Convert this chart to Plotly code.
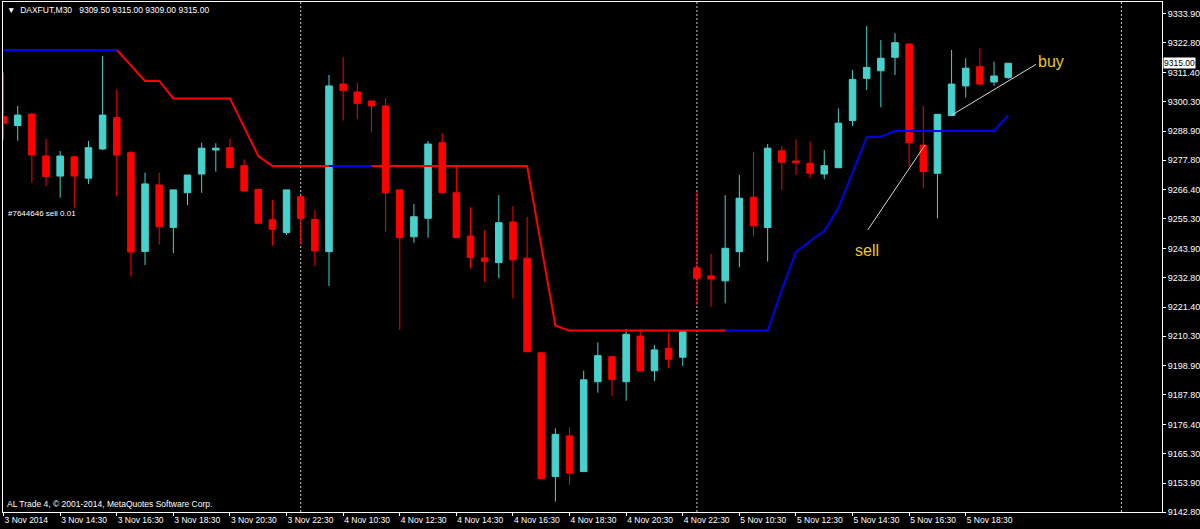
import plotly.graph_objects as go

# ---------------- data ----------------
bars = list(range(72))
opens = [9294.5, 9291.1, 9295.5, 9279.4, 9271.7, 9279.1, 9270.9, 9282.1, 9294.1, 9280.7,
         9242.8, 9268.3, 9252.0, 9265.3, 9272.5, 9281.7, 9282.6, 9275.7, 9266.6, 9254.9,
         9250.0, 9263.8, 9255.1, 9242.7, 9307.0, 9304.0, 9300.5, 9298.6, 9266.4, 9248.4,
         9255.5, 9284.5, 9265.3, 9248.7, 9240.3, 9238.5, 9254.1, 9240.2, 9203.9, 9156.4,
         9172.0, 9158.3, 9192.8, 9202.4, 9192.8, 9210.3, 9197.0, 9205.6, 9202.2, 9236.5,
         9233.4, 9231.5, 9242.7, 9263.6, 9252.0, 9281.4, 9277.5, 9276.6, 9272.5, 9274.9,
         9293.0, 9309.2, 9312.1, 9317.3, 9322.4, 9283.6, 9272.8, 9294.9, 9306.3, 9313.7,
         9307.8, 9309.5]
highs = [9311.5, 9298.6, 9296.0, 9286.0, 9281.3, 9279.5, 9285.2, 9317.8, 9305.0, 9281.3,
         9273.0, 9273.0, 9266.5, 9272.1, 9284.5, 9284.3, 9286.0, 9278.1, 9266.6, 9262.5,
         9266.4, 9264.0, 9258.7, 9310.5, 9317.4, 9307.5, 9300.5, 9301.6, 9266.4, 9261.0,
         9285.2, 9288.1, 9275.2, 9259.8, 9251.0, 9264.4, 9260.2, 9256.1, 9203.9, 9174.9,
         9175.3, 9197.0, 9207.9, 9202.4, 9213.0, 9213.0, 9206.9, 9211.4, 9212.0, 9265.7,
         9241.8, 9264.4, 9272.1, 9281.0, 9284.0, 9283.2, 9285.8, 9284.9, 9281.7, 9297.7,
         9312.4, 9329.3, 9323.9, 9326.5, 9322.4, 9298.6, 9295.4, 9320.1, 9316.9, 9320.7,
         9315.6, 9315.0]
lows = [9285.6, 9285.3, 9269.2, 9267.9, 9263.4, 9259.6, 9268.7, 9281.7, 9264.0, 9233.4,
        9237.5, 9245.4, 9242.1, 9260.6, 9265.3, 9273.4, 9274.9, 9266.0, 9253.6, 9245.0,
        9249.1, 9245.3, 9237.2, 9229.5, 9293.0, 9293.5, 9288.7, 9250.4, 9212.7, 9246.1,
        9248.1, 9265.3, 9248.1, 9236.3, 9231.1, 9232.5, 9224.8, 9204.3, 9155.7, 9146.8,
        9153.2, 9158.3, 9188.6, 9187.3, 9185.5, 9196.9, 9193.1, 9198.0, 9198.8, 9222.2,
        9221.5, 9222.9, 9236.7, 9248.5, 9238.9, 9266.4, 9272.1, 9270.9, 9270.5, 9274.9,
        9290.9, 9304.7, 9298.1, 9310.5, 9275.3, 9267.0, 9255.5, 9294.9, 9301.9, 9306.3,
        9306.3, 9309.0]
closes = [9292.0, 9295.1, 9279.8, 9271.5, 9279.4, 9271.7, 9282.6, 9295.1, 9279.8, 9242.6,
          9268.7, 9252.3, 9266.4, 9272.1, 9282.4, 9282.4, 9274.9, 9266.0, 9253.6, 9251.3,
          9266.4, 9255.5, 9243.0, 9306.3, 9304.5, 9299.6, 9298.6, 9265.3, 9248.1, 9256.1,
          9284.0, 9265.3, 9248.1, 9240.5, 9239.0, 9253.8, 9239.6, 9204.3, 9155.7, 9172.6,
          9157.7, 9193.5, 9202.8, 9193.7, 9211.0, 9196.9, 9205.0, 9201.4, 9212.0, 9232.5,
          9232.2, 9244.0, 9263.2, 9252.6, 9282.4, 9277.0, 9276.8, 9272.8, 9275.7, 9292.0,
          9308.8, 9313.4, 9316.9, 9322.9, 9284.5, 9273.4, 9295.4, 9307.0, 9313.1, 9307.0,
          9310.1, 9315.0]

# trailing-stop indicator, one value per bar
trail = [9320.1] * 9 + [9314.1, 9308.2, 9308.2] + [9301.5] * 5 + [9290.5, 9279.4] + \
        [9275.6] * 19 + [9244.9, 9214.3] + [9212.4] * 15 + \
        [9228.0, 9242.6, 9246.8, 9250.6, 9259.5, 9273.3, 9286.6, 9286.8] + [9289.0] * 8 + [9295.1]
red_segments = [(8, 51)]
blue_segments = [(0, 8), (23, 26), (51, 71)]

tick_bars = list(range(0, 72, 4))
tick_text = ["3 Nov 2014", "3 Nov 14:30", "3 Nov 16:30", "3 Nov 18:30", "3 Nov 20:30",
             "3 Nov 22:30", "4 Nov 10:30", "4 Nov 12:30", "4 Nov 14:30", "4 Nov 16:30",
             "4 Nov 18:30", "4 Nov 20:30", "4 Nov 22:30", "5 Nov 10:30", "5 Nov 12:30",
             "5 Nov 14:30", "5 Nov 16:30", "5 Nov 18:30"]
price_ticks = [9333.9, 9322.8, 9311.4, 9300.3, 9288.9, 9277.8, 9266.4, 9255.3, 9243.9,
               9232.8, 9221.4, 9210.3, 9198.9, 9187.8, 9176.4, 9165.3, 9153.9, 9142.8]
day_separators = [21, 49, 79]

sell_line_x = [61.07, 65.12]
sell_line_y = [9251.0, 9283.6]
buy_line_x = [67.01, 72.97]
buy_line_y = [9295.1, 9314.6]
sell_label = (60.0, 9243.3)
buy_label = (73.0, 9315.5)
order_label_price = 9257.2
last_price = 9315.0

FONT = "Liberation Sans, Arial, sans-serif"
CYAN = "#48d1cc"
RED = "#ff0000"
BLUE = "#0000f0"
GOLD = "#eec52a"

fig = go.Figure()

fig.add_trace(go.Candlestick(
    x=bars, open=opens, high=highs, low=lows, close=closes,
    increasing=dict(line=dict(color=CYAN, width=1), fillcolor=CYAN),
    decreasing=dict(line=dict(color=RED, width=1), fillcolor=RED),
    whiskerwidth=0, hoverinfo="skip", showlegend=False))

for a, b in red_segments:
    fig.add_trace(go.Scatter(x=bars[a:b + 1], y=trail[a:b + 1], mode="lines",
                             line=dict(color=RED, width=2), showlegend=False, hoverinfo="skip"))
for a, b in blue_segments:
    fig.add_trace(go.Scatter(x=bars[a:b + 1], y=trail[a:b + 1], mode="lines",
                             line=dict(color=BLUE, width=2), showlegend=False, hoverinfo="skip"))

fig.add_trace(go.Scatter(x=sell_line_x, y=sell_line_y, mode="lines",
                         line=dict(color="#d8d8d8", width=1), showlegend=False, hoverinfo="skip"))
fig.add_trace(go.Scatter(x=buy_line_x, y=buy_line_y, mode="lines",
                         line=dict(color="#d8d8d8", width=1), showlegend=False, hoverinfo="skip"))

for d in day_separators:
    fig.add_shape(type="line", xref="x", yref="paper", x0=d, x1=d, y0=0, y1=1,
                  line=dict(color="#c8c8c8", width=1, dash="2px,2px"), layer="below")

annotations = [
    dict(text="\u25bc\u00a0 DAXFUT,M30\u00a0\u00a0 9309.50 9315.00 9309.00 9315.00",
         xref="paper", yref="paper", x=0.0, y=1, xanchor="left", yanchor="top", yshift=-1,
         xshift=2, showarrow=False, font=dict(family=FONT, size=8.5, color="#ffffff")),
    dict(text="AL Trade 4, \u00a9 2001-2014, MetaQuotes Software Corp.",
         xref="paper", yref="paper", x=0.002, y=0, xanchor="left", yanchor="bottom", yshift=1,
         showarrow=False, font=dict(family=FONT, size=8.5, color="#ffffff")),
    dict(text="#7644646 sell 0.01", xref="paper", yref="y", x=0.003, y=order_label_price,
         xanchor="left", yanchor="middle", showarrow=False,
         font=dict(family=FONT, size=8, color="#ffffff")),
    dict(text="sell", xref="x", yref="y", x=sell_label[0], y=sell_label[1],
         xanchor="left", yanchor="middle", showarrow=False,
         font=dict(family=FONT, size=16, color=GOLD)),
    dict(text="buy", xref="x", yref="y", x=buy_label[0], y=buy_label[1],
         xanchor="left", yanchor="middle", showarrow=False,
         font=dict(family=FONT, size=16, color=GOLD)),
    dict(text=f"{last_price:.2f}", xref="paper", yref="y", x=1, y=last_price,
         xanchor="left", yanchor="middle", xshift=1, showarrow=False, bgcolor="#ffffff",
         borderpad=0, font=dict(family=FONT, size=8.5, color="#000000")),
]

fig.update_layout(
    width=1200, height=529,
    margin=dict(l=3, r=38, t=2, b=17, autoexpand=False),
    paper_bgcolor="#000000", plot_bgcolor="#000000",
    boxgap=0.34,
    annotations=annotations,
    xaxis=dict(range=[-0.04, 81.87], showgrid=False, zeroline=False,
               rangeslider=dict(visible=False),
               tickmode="array", tickvals=tick_bars, ticktext=tick_text,
               ticks="outside", ticklen=3, tickcolor="#ffffff", tickangle=0,
               ticklabelposition="outside right",
               tickfont=dict(family=FONT, size=8.5, color="#ffffff"),
               showline=True, linecolor="#ffffff", linewidth=1, mirror=True),
    yaxis=dict(range=[9142.8, 9338.5], side="right", showgrid=False, zeroline=False,
               tickmode="array", tickvals=price_ticks,
               ticktext=[f"{v:.2f}" for v in price_ticks],
               ticks="outside", ticklen=3, tickcolor="#ffffff",
               tickfont=dict(family=FONT, size=9, color="#ffffff"),
               showline=True, linecolor="#ffffff", linewidth=1, mirror=True),
)

fig.write_html("out.html", config={"displayModeBar": False},
               post_script="document.body.style.margin='0';document.body.style.background='#000';"
                           "document.body.style.overflow='hidden';")
